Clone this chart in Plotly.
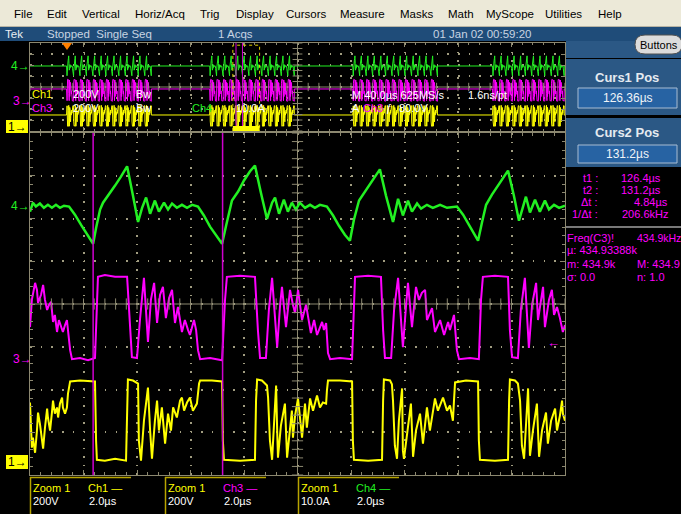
import numpy as np
import plotly.graph_objects as go

W, H = 681, 514
FONT = "Liberation Sans, Arial, sans-serif"

# Zoom window, 2.0 us/div, time in microseconds
ch4_t = [124.00,124.11,124.22,124.37,124.52,124.67,124.82,124.97,125.12,125.27,
         125.46,125.68,125.91,126.13,126.36,126.47,126.62,126.73,126.95,127.18,
         127.40,127.63,127.85,128.04,128.19,128.34,128.49,128.67,128.82,129.01,
         129.16,129.31,129.49,129.68,129.87,130.06,130.28,130.50,130.73,130.95,
         131.18,131.33,131.55,131.78,132.00,132.22,132.41,132.63,132.86,133.05,
         133.16,133.31,133.49,133.64,133.79,133.94,134.09,134.28,134.47,134.65,
         134.84,135.10,135.33,135.55,135.77,135.96,136.11,136.30,136.52,136.78,
         137.08,137.31,137.57,137.76,137.94,138.13,138.28,138.47,138.62,138.84,
         139.06,139.33,139.59,139.96,140.19,140.41,140.60,140.75,140.90,141.05,
         141.27,141.57,141.87,142.09,142.28,142.54,142.69,142.88,143.06,143.25,
         143.40,143.59,143.78,144.00]
ch4_amp = [-1.4,0.7,-0.2,0.5,-0.5,0.2,-0.5,0.2,-0.5,0.0,
           -0.2,-2.1,-4.5,-6.6,-8.9,-5.2,-0.9,0.7,2.6,4.7,
           6.8,9.2,2.3,-3.8,-0.5,1.9,-1.9,1.2,-1.4,0.7,
           -0.9,0.5,-0.5,0.2,-0.5,0.2,-0.2,-2.3,-4.9,-7.0,
           -8.9,-4.7,1.2,3.3,5.9,8.0,9.4,3.1,-3.1,0.7,
           1.9,-1.9,1.4,-1.4,0.7,-0.9,0.7,-0.5,0.2,-0.5,
           0.2,-0.2,-2.3,-4.7,-6.8,-8.2,-3.3,1.2,3.3,5.9,
           8.5,2.3,-3.8,1.6,-2.3,1.2,-1.4,0.5,-0.7,0.2,
           -0.5,0.2,-0.5,-0.2,-2.1,-4.5,-6.6,-8.2,-3.8,0.2,
           2.6,5.4,8.2,2.3,-3.5,2.1,-1.6,1.4,-1.4,1.2,
           -0.9,0.2,-0.5,0.0]

ch3_t = [124.00,124.07,124.19,124.26,124.30,124.41,124.49,124.56,124.64,124.71,
         124.79,124.86,124.93,125.01,125.08,125.16,125.23,125.31,125.38,125.50,
         125.57,125.87,126.17,126.43,126.50,126.54,126.80,127.18,127.63,127.74,
         127.81,128.00,128.11,128.26,128.41,128.52,128.64,128.75,128.86,128.97,
         129.08,129.20,129.31,129.42,129.53,129.68,129.79,129.91,129.98,130.13,
         130.21,130.28,130.36,130.73,131.18,131.29,131.36,131.85,132.41,132.52,
         132.60,132.82,132.93,133.05,133.24,133.35,133.42,133.57,133.72,133.83,
         133.91,134.02,134.17,134.32,134.50,134.62,134.73,134.92,134.99,135.07,
         135.14,135.22,135.59,136.04,136.11,136.15,136.64,137.12,137.20,137.27,
         137.50,137.61,137.76,137.94,138.06,138.13,138.28,138.43,138.54,138.65,
         138.77,138.84,139.03,139.14,139.33,139.48,139.63,139.70,139.85,139.96,
         140.04,140.45,140.78,140.86,140.93,141.38,141.87,141.94,142.02,142.24,
         142.35,142.50,142.65,142.77,142.92,142.99,143.18,143.25,143.40,143.51,
         143.59,143.70,143.81,143.92,144.00]
ch3_volt = [150,277,357,324,263,300,347,277,230,254,
            268,174,207,127,183,155,127,160,183,42,
            0,5,-5,5,324,385,394,385,385,136,
            9,5,183,380,80,277,357,169,300,338,
            192,286,324,169,244,127,183,136,113,183,
            136,42,0,5,-5,277,385,390,385,136,
            5,5,230,380,56,254,338,150,324,254,
            216,324,183,254,122,183,113,174,136,169,
            28,0,5,0,277,385,390,385,136,5,
            5,230,380,56,254,357,150,338,277,310,
            324,183,239,127,183,113,174,136,207,42,
            0,5,0,277,385,390,385,136,9,5,
            230,380,52,254,357,183,338,150,277,324,
            207,244,192,127,160]

ch1_t = [124.00,124.07,124.11,124.19,124.26,124.30,124.37,124.45,124.49,124.56,
         124.64,124.67,124.75,124.82,124.86,124.93,125.01,125.05,125.12,125.20,
         125.23,125.31,125.38,125.42,125.50,125.87,126.43,126.47,126.50,126.80,
         127.18,127.59,127.63,127.66,127.85,128.04,128.07,128.15,128.26,128.41,
         128.49,128.56,128.67,128.75,128.82,128.93,129.05,129.16,129.27,129.35,
         129.49,129.61,129.68,129.76,129.87,129.98,130.09,130.24,130.32,130.36,
         130.80,131.18,131.21,131.25,131.85,132.41,132.45,132.49,132.67,132.86,
         132.90,132.97,133.05,133.12,133.20,133.24,133.27,133.38,133.53,133.61,
         133.72,133.79,133.83,133.91,134.02,134.09,134.17,134.28,134.35,134.47,
         134.58,134.73,134.84,134.95,135.07,135.10,135.14,135.59,136.04,136.07,
         136.11,136.64,137.16,137.20,137.23,137.46,137.53,137.57,137.64,137.72,
         137.79,137.91,137.94,137.98,138.13,138.24,138.32,138.43,138.58,138.69,
         138.84,138.95,139.14,139.25,139.44,139.59,139.70,139.81,139.85,139.89,
         140.30,140.75,140.78,140.82,141.38,141.87,141.91,141.94,142.13,142.24,
         142.32,142.39,142.47,142.54,142.62,142.69,142.80,142.95,143.03,143.14,
         143.29,143.36,143.48,143.63,143.70,143.81,143.89,143.92,144.00]
ch1_volt = [277,66,113,42,146,230,178,89,61,160,
            249,207,146,230,286,225,254,207,272,300,
            254,225,254,319,376,380,376,99,9,5,
            14,5,286,385,380,366,99,5,192,347,
            146,14,192,286,146,254,85,225,146,254,
            207,286,300,239,277,300,239,272,366,380,
            380,376,99,9,5,9,286,385,380,357,
            300,99,9,192,357,146,19,169,272,19,
            169,239,113,216,296,216,113,272,160,296,
            239,310,254,277,272,333,380,380,376,99,
            9,5,9,286,385,380,362,286,75,14,
            192,343,52,14,169,272,23,146,225,85,
            254,146,296,239,300,239,263,192,286,371,
            380,376,99,9,5,9,286,385,380,366,
            286,75,14,192,343,28,146,272,23,146,
            230,85,192,249,146,216,286,225,192]

cursor_t = [126.36, 131.2]          # Curs1 / Curs2 positions (us)
trig_level_v = 80.0                 # A Ch3 80.0V

# Overview (40 us/div): start of each switching cycle inside the four bursts (us)
burst_cycles = [
    [0.0, 4.9, 9.7, 14.5, 19.4, 24.3, 29.1, 33.9, 38.8, 43.6, 48.5, 53.3, 58.2],
    [107.0, 111.8, 116.7, 121.5, 126.4, 131.2, 136.0, 140.9, 145.7, 150.6, 155.4, 160.2, 165.1],
    [214.0, 218.8, 223.7, 228.5, 233.4, 238.2, 243.0, 247.9, 252.7, 257.6, 262.4, 267.2, 272.1],
    [318.5, 323.3, 328.2, 333.0, 337.9, 342.7, 347.5, 352.4, 357.2, 362.1, 366.9],
]
idle_ch4, idle_ch3, idle_ch1 = 0.0, 218.0, 209.0

# display settings (volts/amps per division, ground position in divisions)
SCALE = {"ch4": 10.0, "ch3": 200.0, "ch1": 200.0}
MAIN_POS = {"ch4": 2.30, "ch3": -1.29, "ch1": -3.69}
OV_POS = {"ch4": 1.91, "ch3": -1.27, "ch1": -3.59}
MAIN_XR = [124.0, 144.0]
OV_XR = [-27.66, 372.34]

GREEN, MAG, YEL = "#22f022", "#ff00ff", "#ffff00"
GRID = "#8c8870"
DOTS = "#a09c80"


def px(x):
    return x / W


def py(y):
    return 1 - y / H


def to_div(vals, ch, pos):
    return [v / SCALE[ch] + pos[ch] for v in vals]


def overview(t_src, v_src, idle):
    c0, c1 = cursor_t
    seg = [(t - c0, v) for t, v in zip(t_src, v_src) if c0 <= t < c1]
    tt, vv = [OV_XR[0]], [idle]
    for starts in burst_cycles:
        tt.append(starts[0] - 0.3); vv.append(idle)
        for s in starts:
            for dt, v in seg:
                tt.append(s + dt); vv.append(v)
        tt.append(starts[-1] + (c1 - c0)); vv.append(idle)
    tt.append(OV_XR[1]); vv.append(idle)
    return tt, vv


fig = go.Figure()

# ---- main window traces ----
fig.add_trace(go.Scatter(x=ch4_t, y=to_div(ch4_amp, "ch4", MAIN_POS), mode="lines",
                         line=dict(color=GREEN, width=2.5), xaxis="x", yaxis="y", hoverinfo="skip"))
fig.add_trace(go.Scatter(x=ch3_t, y=to_div(ch3_volt, "ch3", MAIN_POS), mode="lines",
                         line=dict(color=MAG, width=2), xaxis="x", yaxis="y", hoverinfo="skip"))
fig.add_trace(go.Scatter(x=ch1_t, y=to_div(ch1_volt, "ch1", MAIN_POS), mode="lines",
                         line=dict(color=YEL, width=2), xaxis="x", yaxis="y", hoverinfo="skip"))

# ---- overview traces ----
for ts, vs, idle, ch, col in [(ch4_t, ch4_amp, idle_ch4, "ch4", GREEN),
                              (ch3_t, ch3_volt, idle_ch3, "ch3", MAG),
                              (ch1_t, ch1_volt, idle_ch1, "ch1", YEL)]:
    ot, ov = overview(ts, vs, idle)
    fig.add_trace(go.Scatter(x=ot, y=to_div(ov, ch, OV_POS), mode="lines",
                             line=dict(color=col, width=1), xaxis="x2", yaxis="y2", hoverinfo="skip"))

# ---- centre-line tick marks (graticule decoration) ----
mx = (MAIN_XR[0] + MAIN_XR[1]) / 2
fig.add_trace(go.Scatter(x=[mx] * 41, y=list(np.linspace(-4, 4, 41)), mode="markers",
                         marker=dict(symbol="line-ew", size=8, line=dict(color=GRID, width=1)),
                         xaxis="x", yaxis="y", hoverinfo="skip"))
fig.add_trace(go.Scatter(x=list(np.linspace(MAIN_XR[0], MAIN_XR[1], 51)), y=[0] * 51, mode="markers",
                         marker=dict(symbol="line-ns", size=8, line=dict(color=GRID, width=1)),
                         xaxis="x", yaxis="y", hoverinfo="skip"))
ox = (OV_XR[0] + OV_XR[1]) / 2
fig.add_trace(go.Scatter(x=[ox] * 17, y=list(np.linspace(-4, 4, 17)), mode="markers",
                         marker=dict(symbol="line-ew", size=7, line=dict(color=GRID, width=1)),
                         xaxis="x2", yaxis="y2", hoverinfo="skip"))
fig.add_trace(go.Scatter(x=list(np.linspace(OV_XR[0], OV_XR[1], 51)), y=[0] * 51, mode="markers",
                         marker=dict(symbol="line-ns", size=6, line=dict(color=GRID, width=1)),
                         xaxis="x2", yaxis="y2", hoverinfo="skip"))

shapes = []
ann = []


def rect(x0, y0, x1, y1, fill, line=None, lw=0, layer="below"):
    shapes.append(dict(type="rect", xref="paper", yref="paper", x0=px(x0), x1=px(x1), y0=py(y1), y1=py(y0),
                       fillcolor=fill, line=dict(color=line or fill, width=lw), layer=layer))


def hline(x0, x1, y, color, w=1):
    shapes.append(dict(type="line", xref="paper", yref="paper", x0=px(x0), x1=px(x1), y0=py(y), y1=py(y),
                       line=dict(color=color, width=w)))


def vline(x, y0, y1, color, w=1):
    shapes.append(dict(type="line", xref="paper", yref="paper", x0=px(x), x1=px(x), y0=py(y0), y1=py(y1),
                       line=dict(color=color, width=w)))


def txt(x, y, s, color, size=11, anchor="left", bold=False, family=FONT):
    if bold:
        s = "<b>" + s + "</b>"
    ann.append(dict(x=px(x), y=py(y), xref="paper", yref="paper", text=s, showarrow=False,
                    xanchor=anchor, yanchor="middle", font=dict(color=color, size=size, family=family),
                    borderpad=0))


# menu bar and status bar
rect(0, 0, W, 27, "#ece9d8")
hline(0, W, 26.5, "#b8b4a4")
rect(0, 27, W, 41, "#1f4c79")
menu_labels = ["File", "Edit", "Vertical", "Horiz/Acq", "Trig", "Display", "Cursors",
               "Measure", "Masks", "Math", "MyScope", "Utilities", "Help"]
menu_x = [13, 46, 81, 134, 199, 235, 285, 339, 399, 447, 485, 544, 597]
for lab, x in zip(menu_labels, menu_x):
    txt(x, 14, lab, "#000000", 11.5)
txt(4, 34, "Tek", "#e8eef4", 11.5)
txt(46, 34, "Stopped  Single Seq", "#c8d4e2", 11.5)
txt(217, 34, "1 Acqs", "#c8d4e2", 11.5)
txt(432, 34, "01 Jan 02 00:59:20", "#c8d4e2", 11.5)

# right panel
rect(566, 41, W, 58, "#2b5885")
rect(566, 59, W, 115, "#2b5885")
rect(566, 118, W, 167, "#2b5885")
shapes.append(dict(type="path", xref="paper", yref="paper",
                   path="M {a},{b} L {c},{b} Q {d},{b} {d},{e} Q {d},{f} {c},{f} L {a},{f} Q {g},{f} {g},{e} Q {g},{b} {a},{b} Z".format(
                       a=px(645), c=px(672), d=px(682), g=px(635), b=py(35), e=py(44.5), f=py(54)),
                   fillcolor="#dcdcdc", line=dict(color="#505050", width=1), layer="below"))
txt(659, 44.5, "Buttons", "#000000", 11, "center")
txt(627, 77, "Curs1 Pos", "#e4eaf0", 13, "center", bold=True)
rect(578, 88, 677, 108, "#2763a3", "#a8bcd2", 1)
txt(627.5, 98, "126.36µs", "#f0f4f8", 12, "center")
txt(627, 132, "Curs2 Pos", "#e4eaf0", 13, "center", bold=True)
rect(578, 145, 677, 163, "#2763a3", "#a8bcd2", 1)
txt(627.5, 154, "131.2µs", "#f0f4f8", 12, "center")

meas_left = ["t1 :", "t2 :", "Δt :", "1/Δt :"]
meas_vals = ["126.4µs", "131.2µs", "4.84µs", "206.6kHz"]
meas_right = [662, 662, 669, 669]
for i, (l, v, xr) in enumerate(zip(meas_left, meas_vals, meas_right)):
    yy = 178 + 12 * i
    txt(599, yy, l, MAG, 11, "right")
    txt(xr, yy, v, MAG, 11, "right")
hline(566, W, 227, "#a0a0a0", 1.5)
txt(566, 238, "Freq(C3)!", MAG, 11)
txt(636, 238, "434.9kHz", MAG, 10.5)
txt(566, 250, "µ: 434.93388k", MAG, 11)
txt(566, 264, "m: 434.9k", MAG, 11)
txt(636, 264, "M: 434.9", MAG, 11)
txt(566, 277, "σ: 0.0", MAG, 11)
txt(636, 277, "n: 1.0", MAG, 11)

# main window: cursors, centre lines, trigger level arrow
for ct in cursor_t:
    shapes.append(dict(type="line", xref="x", yref="y", x0=ct, x1=ct, y0=-4, y1=4,
                       line=dict(color="#d000d0", width=1.5)))
shapes.append(dict(type="line", xref="x", yref="y", x0=mx, x1=mx, y0=-4, y1=4,
                   line=dict(color=GRID, width=1), layer="below"))
shapes.append(dict(type="line", xref="x", yref="y", x0=MAIN_XR[0], x1=MAIN_XR[1], y0=0, y1=0,
                   line=dict(color=GRID, width=1), layer="below"))
tl = trig_level_v / SCALE["ch3"] + MAIN_POS["ch3"]
ann.append(dict(x=143.9, y=tl, xref="x", yref="y", text="←", showarrow=False, xanchor="right",
                yanchor="middle", font=dict(color=MAG, size=13, family=FONT)))

# overview: centre lines, zoom box, cursors, trigger marker
shapes.append(dict(type="line", xref="x2", yref="y2", x0=ox, x1=ox, y0=-4, y1=4,
                   line=dict(color=GRID, width=1), layer="below"))
shapes.append(dict(type="line", xref="x2", yref="y2", x0=OV_XR[0], x1=OV_XR[1], y0=0, y1=0,
                   line=dict(color=GRID, width=1), layer="below"))
shapes.append(dict(type="rect", xref="x2", yref="y2", x0=MAIN_XR[0], x1=MAIN_XR[1], y0=-4, y1=3.8,
                   line=dict(color="#e0d000", width=1, dash="dot")))
for ct in cursor_t:
    shapes.append(dict(type="line", xref="x2", yref="y2", x0=ct, x1=ct, y0=-4, y1=4,
                       line=dict(color="#d000d0", width=1)))
shapes.append(dict(type="rect", xref="x2", yref="paper", x0=MAIN_XR[0], x1=MAIN_XR[1],
                   y0=py(131), y1=py(126), fillcolor=YEL, line=dict(width=0)))
shapes.append(dict(type="path", xref="paper", yref="paper",
                   path="M {a},{b} L {c},{b} L {d},{e} Z".format(a=px(62), c=px(72), d=px(67), b=py(43), e=py(50)),
                   fillcolor="#ff8000", line=dict(width=0)))

# channel ground markers
txt(10, 206, "4→", GREEN, 12)
txt(12, 359, "3→", MAG, 12)
rect(6, 455, 28, 469, YEL)
txt(17, 462, "1→", "#000000", 12, "center")
txt(10, 66, "4→", GREEN, 12)
txt(12, 101, "3→", MAG, 12)
rect(6, 120, 28, 133, YEL)
txt(17, 126.5, "1→", "#000000", 12, "center")

# overview readouts
txt(31, 94, "Ch1", YEL, 11)
txt(72, 94, "200V", "#ffffff", 11)
txt(135, 94, "Bw", "#ffffff", 11)
txt(31, 108, "Ch3", MAG, 11)
txt(72, 108, "200V", "#ffffff", 11)
txt(135, 108, "Bw", "#ffffff", 11)
txt(191, 108, "Ch4", GREEN, 11)
txt(235, 108, "10.0A", "#ffffff", 11)
txt(351, 95, "M 40.0µs 625MS/s", "#ffffff", 11)
txt(467, 95, "1.6ns/pt", "#ffffff", 11)
txt(351, 108, "A", "#ffffff", 11)
txt(362, 108, "Ch3", MAG, 11)
txt(385, 108, "ƒ", "#ffffff", 11)
txt(398, 108, "80.0V", "#ffffff", 11)

# bottom readout boxes
box_x = [30, 165, 298]
box_ch = ["Ch1 —", "Ch3 —", "Ch4 —"]
box_col = [YEL, MAG, GREEN]
box_scale = ["200V", "200V", "10.0A"]
for bx, ch, col, sc in zip(box_x, box_ch, box_col, box_scale):
    hline(bx, bx + 101, 477.5, "#b8a400", 1.5)
    vline(bx + 0.5, 477, 514, "#b8a400", 1.5)
    txt(bx + 2, 488, "Zoom 1", YEL, 11)
    txt(bx + 57, 488, ch, col, 11)
    txt(bx + 2, 501, sc, "#ffffff", 11)
    txt(bx + 58, 501, "2.0µs", "#ffffff", 11)

axis_common = dict(showticklabels=False, zeroline=False, showline=True, linecolor=GRID, linewidth=1,
                   mirror="allticks", ticks="inside", tickcolor=GRID, fixedrange=True, showgrid=True,
                   gridcolor=DOTS, gridwidth=1.5)

fig.update_layout(
    width=W, height=H, margin=dict(l=0, r=0, t=0, b=0),
    paper_bgcolor="#000000", plot_bgcolor="#000000", showlegend=False,
    xaxis=dict(domain=[px(30), px(565)], range=MAIN_XR, anchor="y", dtick=2, tick0=MAIN_XR[0], ticklen=5,
               griddash="1.5px,7px", minor=dict(dtick=0.4, tick0=MAIN_XR[0], ticks="inside", ticklen=3,
                                                 tickcolor=GRID, showgrid=False), **axis_common),
    yaxis=dict(domain=[py(475), py(133)], range=[-4, 4], anchor="x", dtick=1, tick0=-4, ticklen=5,
               griddash="1.5px,9.2px", minor=dict(dtick=0.2, tick0=-4, ticks="inside", ticklen=3,
                                                   tickcolor=GRID, showgrid=False), **axis_common),
    xaxis2=dict(domain=[px(30), px(565)], range=OV_XR, anchor="y2", dtick=40, tick0=OV_XR[0], ticklen=4,
                griddash="1.5px,7px", minor=dict(dtick=8, tick0=OV_XR[0], ticks="inside", ticklen=2,
                                                  tickcolor=GRID, showgrid=False), **axis_common),
    yaxis2=dict(domain=[py(131), py(43)], range=[-4, 4], anchor="x2", dtick=1, tick0=-4, ticklen=4,
                griddash="1.5px,9.2px", **axis_common),
    shapes=shapes, annotations=ann,
)

fig.write_html("out.html", config={"displayModeBar": False},
               post_script="document.body.style.margin='0px';document.body.style.background='#000';")
